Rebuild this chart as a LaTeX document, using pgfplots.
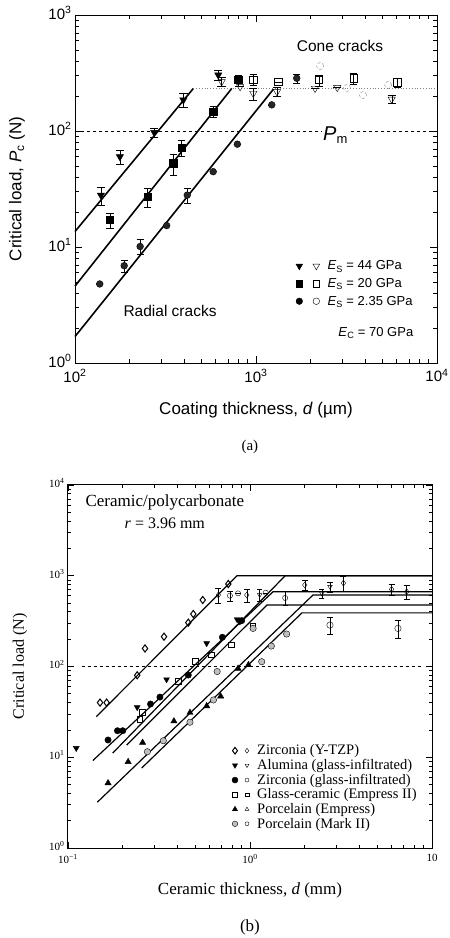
\documentclass[border=0pt]{standalone}
\usepackage{fontspec}
\setmainfont{Liberation Serif}
\newfontfamily\helv{Liberation Sans}
\usepackage{pgfplots}
\pgfplotsset{compat=1.18}
\newcommand{\fs}[1]{\fontsize{#1}{#1}\selectfont}
\begin{document}
\begin{tikzpicture}
\useasboundingbox (0pt,0pt) rectangle (450pt,938pt);
% ---------------- (a) ----------------
\begin{axis}[
  at={(75pt,575pt)}, anchor=south west,
  scale only axis, width=362pt, height=348pt,
  xmode=log, ymode=log, xmin=100, xmax=10000, ymin=1, ymax=1000,
  xtick={100,1000,10000},
  xticklabels={10\textsuperscript{2},10\textsuperscript{3},10\textsuperscript{4}},
  ytick={1,10,100,1000},
  yticklabels={10\textsuperscript{0},10\textsuperscript{1},10\textsuperscript{2},10\textsuperscript{3}},
  minor xtick={200,300,400,500,600,700,800,900,2000,3000,4000,5000,6000,7000,8000,9000},
  minor ytick={2,3,4,5,6,7,8,9,20,30,40,50,60,70,80,90,200,300,400,500,600,700,800,900},
  tick align=inside, major tick length=7pt, minor tick length=4pt,
  every tick/.style={black, line width=0.8pt},
  axis line style={line width=0.9pt},
  ticklabel style={font=\helv\fs{15}},
  xticklabel style={yshift=-3pt},
  yticklabel style={yshift=2pt},
  xlabel={Coating thickness, \textit{d} (µm)},
  ylabel={Critical load, \textit{P}\textsubscript{c} (N)},
  xlabel style={font=\helv\fs{17}, at={(0.5,-0.135)}, anchor=center},
  ylabel style={font=\helv\fs{17}, at={(-0.16,0.5)}, anchor=center},
  legend style={at={(0.61,0.3)}, anchor=north west, draw=none, fill=none, font=\helv\fs{13}, row sep=3pt, inner sep=0pt},
  legend cell align=left,
  clip=false,
]
\addplot[black, line width=1.6pt, forget plot] coordinates {(100,13.6) (451,233)};
\addplot[black, line width=1.6pt, forget plot] coordinates {(100,4.6) (735,233)};
\addplot[black, line width=1.6pt, forget plot] coordinates {(100,1.69) (1247,229)};
\addplot[gray, dotted, line width=0.8pt, forget plot] coordinates {(451,233) (9800,233)};
\addplot[black, dashed, line width=0.9pt, forget plot] coordinates {(100,100) (10000,100)};

\addplot[black, only marks, mark=triangle*, mark size=4.2pt, mark options={rotate=180, fill=black},
  legend image code/.code={
    \draw[black, mark=triangle*, mark size=3.8pt, mark options={rotate=180, fill=black}] plot coordinates {(0pt,0pt)};
    \draw[black, mark=triangle, mark size=3.8pt, mark options={rotate=180, fill=white}] plot coordinates {(17pt,0pt)};
    \path (26pt,0pt);},
  error bars/.cd, y dir=both, y explicit]
  coordinates {(139,28) +- (0,5) (177,60) +- (0,8) (274,97) +- (0,8) (397,185) +- (0,25) (619,304) +- (0,30)};
\addlegendentry{\textit{E}\textsubscript{S} = 44 GPa}

\addplot[black, only marks, mark=square*, mark size=3.6pt, mark options={fill=black},
  legend image code/.code={
    \draw[black, mark=square*, mark size=3.3pt, mark options={fill=black}] plot coordinates {(0pt,0pt)};
    \draw[black, mark=square, mark size=3.3pt, mark options={fill=white}] plot coordinates {(17pt,0pt)};
    \path (26pt,0pt);},
  error bars/.cd, y dir=both, y explicit]
  coordinates {(156,17.1) +- (0,2.5) (251,27.2) +- (0,5) (349,52.7) +- (0,11) (388,72) +- (0,11) (580,147) +- (0,15) (798,275) +- (0,30)};
\addlegendentry{\textit{E}\textsubscript{S} = 20 GPa}

\addplot[black, only marks, mark=*, mark size=3.4pt, mark options={fill=black!85},
  legend image code/.code={
    \draw[black, mark=*, mark size=3.3pt, mark options={fill=black}] plot coordinates {(0pt,0pt)};
    \draw[black, mark=o, mark size=3.3pt, mark options={fill=white}] plot coordinates {(17pt,0pt)};
    \path (26pt,0pt);},
  error bars/.cd, y dir=both, y explicit]
  coordinates {(137,4.8) +- (0,0) (187,6.9) +- (0,0.8) (229,10.1) +- (0,1.5) (321,15.3) +- (0,0) (417,28) +- (0,4) (580,44.6) +- (0,0) (789,77) +- (0,0) (1222,168) +- (0,0) (1679,285) +- (0,25)};
\addlegendentry{\textit{E}\textsubscript{S} = 2.35 GPa}

\addplot[black, only marks, mark=triangle, mark size=4.2pt, mark options={rotate=180, fill=white}, forget plot,
  error bars/.cd, y dir=both, y explicit]
  coordinates {(646,266) +- (0,25) (817,241) +- (0,0) (966,211) +- (0,25) (1306,218) +- (0,20) (2120,233) +- (0,0) (2810,237) +- (0,0) (5620,188) +- (0,15)};
\addplot[black, only marks, mark=square, mark size=3.6pt, mark options={fill=white}, forget plot,
  error bars/.cd, y dir=both, y explicit]
  coordinates {(966,279) +- (0,30) (1327,266) +- (0,0) (2230,275) +- (0,30) (3450,285) +- (0,30) (6030,263) +- (0,25)};
\addplot[gray, only marks, mark=o, mark size=3.5pt, densely dashed, forget plot]
  coordinates {(2260,363) (3180,235) (3900,204) (5370,249)};

\node[fill=white, inner sep=1.5pt, font=\helv\fs{20}] at (axis cs:2750,92) {\textit{P}\textsubscript{\fs{13}m}};
\node[font=\helv\fs{15.5}] at (axis cs:2910,540) {Cone cracks};
\node[font=\helv\fs{15.5}] at (axis cs:335,2.8) {Radial cracks};
\node[anchor=west, font=\helv\fs{13}] at (axis cs:2730,1.8) {\textit{E}\textsubscript{C} = 70 GPa};
\node[font=\fs{15}] at (rel axis cs:0.483,-0.241) {(a)};
\end{axis}

% ---------------- (b) ----------------
\begin{axis}[
  at={(68pt,90pt)}, anchor=south west,
  scale only axis, width=364pt, height=363pt,
  xmode=log, ymode=log, xmin=0.1, xmax=10, ymin=1, ymax=10000,
  xtick={0.1,1,10},
  xticklabels={10\textsuperscript{−1},10\textsuperscript{0},10},
  ytick={1,10,100,1000,10000},
  yticklabels={10\textsuperscript{0},10\textsuperscript{1},10\textsuperscript{2},10\textsuperscript{3},10\textsuperscript{4}},
  minor xtick={0.2,0.3,0.4,0.5,0.6,0.7,0.8,0.9,2,3,4,5,6,7,8,9},
  minor ytick={2,3,4,5,6,7,8,9,20,30,40,50,60,70,80,90,200,300,400,500,600,700,800,900,2000,3000,4000,5000,6000,7000,8000,9000},
  tick align=inside, major tick length=6pt, minor tick length=3.5pt,
  every tick/.style={black, line width=0.8pt},
  axis line style={line width=1pt},
  ticklabel style={font=\fs{11}},
  xticklabel style={yshift=-3pt},
  yticklabel style={yshift=2pt},
  xlabel={Ceramic thickness, \textit{d} (mm)},
  ylabel={Critical load (N)},
  xlabel style={font=\fs{17}, at={(0.5,-0.116)}, anchor=center},
  ylabel style={font=\fs{16}, at={(-0.132,0.5)}, anchor=center},
  legend style={at={(0.45,0.29)}, anchor=north west, draw=none, fill=none, font=\fs{14.5}, row sep=-1pt, inner sep=0pt},
  legend cell align=left,
  clip=false,
]
\addplot[black, line width=1.2pt, forget plot] coordinates {(0.143,28) (0.848,1000) (10,1000)};
\addplot[black, line width=1.2pt, forget plot] coordinates {(0.137,9.2) (1.34,667) (10,667)};
\addplot[black, line width=1.2pt, forget plot] coordinates {(0.176,11.1) (1.56,1000) (10,1000)};
\addplot[black, line width=1.2pt, forget plot] coordinates {(0.21,13.6) (1.24,477) (10,477)};
\addplot[black, line width=1.2pt, forget plot] coordinates {(0.145,3.2) (2.22,614) (10,614)};
\addplot[black, line width=1.2pt, forget plot] coordinates {(0.254,7.6) (1.93,390) (10,390)};
\addplot[black, dashed, line width=1pt, forget plot] coordinates {(0.119,100) (8.8,100)};

% Zirconia Y-TZP
\addplot[black, only marks, mark=diamond, mark size=3.6pt, mark options={fill=white, line width=1pt},
  legend image code/.code={
    \draw[black, mark=diamond, mark size=3.3pt, mark options={fill=white, line width=1pt}] plot coordinates {(0pt,0pt)};
    \draw[black, mark=diamond, mark size=2.4pt, mark options={fill=white}] plot coordinates {(12pt,0pt)};
    \path (20pt,0pt);}]
  coordinates {(0.15,40) (0.163,40) (0.24,80) (0.265,158) (0.337,213) (0.458,304) (0.488,379) (0.55,541) (0.76,811)};
\addlegendentry{Zirconia (Y-TZP)}
% Alumina
\addplot[black, only marks, mark=triangle*, mark size=3.4pt, mark options={rotate=180, fill=black},
  legend image code/.code={
    \draw[black, mark=triangle*, mark size=3pt, mark options={rotate=180, fill=black}] plot coordinates {(0pt,0pt)};
    \draw[black, mark=triangle, mark size=2.2pt, mark options={rotate=180, fill=white}] plot coordinates {(12pt,0pt)};
    \path (20pt,0pt);}]
  coordinates {(0.111,12.6) (0.24,35.5) (0.348,72) (0.578,180) (0.85,330) (0.88,312)};
\addlegendentry{Alumina (glass-infiltrated)}
% Zirconia glass-infiltrated
\addplot[black, only marks, mark=*, mark size=3.2pt, mark options={fill=black},
  legend image code/.code={
    \draw[black, mark=*, mark size=3pt, mark options={fill=black}] plot coordinates {(0pt,0pt)};
    \draw[black, mark=o, mark size=2pt, mark options={fill=white}] plot coordinates {(12pt,0pt)};
    \path (20pt,0pt);}]
  coordinates {(0.166,15.5) (0.187,19.6) (0.2,19.6) (0.284,38.6) (0.32,46) (0.458,80.5) (0.705,210) (0.9,320)};
\addlegendentry{Zirconia (glass-infiltrated)}
% Glass-ceramic
\addplot[black, only marks, mark=square, mark size=2.8pt, mark options={fill=white, line width=1pt},
  legend image code/.code={
    \draw[black, mark=square, mark size=2.4pt, mark options={fill=white, line width=1pt}] plot coordinates {(0pt,0pt)};
    \draw[black, mark=square, mark size=1.8pt, mark options={fill=white}] plot coordinates {(12pt,0pt)};
    \path (20pt,0pt);}]
  coordinates {(0.249,26) (0.257,31) (0.404,68) (0.5,113) (0.616,134) (0.79,173) (1.04,275)};
\addlegendentry{Glass-ceramic (Empress II)}
% Porcelain Empress
\addplot[black, only marks, mark=triangle*, mark size=3.6pt, mark options={fill=black},
  legend image code/.code={
    \draw[black, mark=triangle*, mark size=3pt, mark options={fill=black}] plot coordinates {(0pt,0pt)};
    \draw[black, mark=triangle, mark size=2.2pt, mark options={fill=white}] plot coordinates {(12pt,0pt)};
    \path (20pt,0pt);}]
  coordinates {(0.166,5.2) (0.214,8.9) (0.257,14.5) (0.382,25) (0.468,31) (0.578,36.7) (0.69,47) (0.86,95) (0.98,104)};
\addlegendentry{Porcelain (Empress)}
% Porcelain Mark II
\addplot[black, only marks, mark=*, mark size=3.2pt, mark options={fill=gray!50},
  legend image code/.code={
    \draw[black, mark=*, mark size=2.8pt, mark options={fill=gray!50}] plot coordinates {(0pt,0pt)};
    \draw[black, mark=o, mark size=2pt, mark options={fill=white}] plot coordinates {(12pt,0pt)};
    \path (20pt,0pt);}]
  coordinates {(0.273,11.5) (0.334,15.2) (0.468,24.3) (0.63,42.8) (0.66,88) (1.16,113) (1.31,168) (1.59,228) (1.04,263)};
\addlegendentry{Porcelain (Mark II)}

% cone-crack (open) data
\addplot[black, only marks, mark=diamond, mark size=3pt, mark options={fill=white}, forget plot,
  error bars/.cd, y dir=both, y explicit]
  coordinates {(0.67,614) +- (0,120) (0.96,614) +- (0,100) (2.0,791) +- (0,100) (3.26,830) +- (0,150) (6.0,710) +- (0,100) (7.26,667) +- (0,120)};
\addplot[black, only marks, mark=triangle, mark size=2.6pt, mark options={rotate=180, fill=white}, forget plot,
  error bars/.cd, y dir=both, y explicit]
  coordinates {(1.13,614) +- (0,90) (2.48,640) +- (0,80) (2.75,757) +- (0,90)};
\addplot[black, only marks, mark=o, mark size=2.6pt, mark options={fill=white}, forget plot,
  error bars/.cd, y dir=both, y explicit]
  coordinates {(0.776,603) +- (0,80) (0.86,640) +- (0,0) (1.22,650) +- (0,0) (1.56,569) +- (0,100)};
\addplot[black, only marks, mark=o, mark size=3.2pt, mark options={fill=white}, forget plot,
  error bars/.cd, y dir=both, y explicit]
  coordinates {(2.75,286) +- (0,60) (6.5,263) +- (0,60)};

\node[font=\fs{17}] at (rel axis cs:0.266,0.953) {Ceramic/polycarbonate};
\node[font=\fs{16}] at (rel axis cs:0.266,0.895) {\textit{r} = 3.96 mm};
\node[font=\fs{17}] at (rel axis cs:0.5,-0.218) {(b)};
\end{axis}
\end{tikzpicture}
\end{document}
